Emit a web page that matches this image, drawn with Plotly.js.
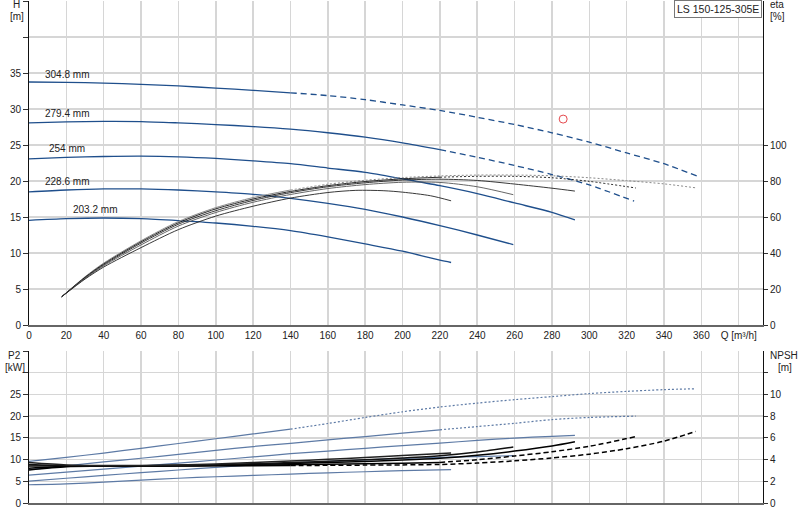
<!DOCTYPE html>
<html>
<head>
<meta charset="utf-8">
<script src="https://cdn.plot.ly/plotly-3.0.1.min.js"></script>
<style>html,body{margin:0;padding:0;background:#fff}#chart{width:800px;height:520px}</style>
</head>
<body>
<div id="chart"></div>
<script>
// ---------- DATA ----------
const diameterLabels = ['304.8 mm', '279.4 mm', '254 mm', '228.6 mm', '203.2 mm'];
const modelName = 'LS 150-125-305E';

// Head H [m] vs Q [m³/h]
const qH_3048 = [0,20,40,60,80,100,120,140,160,180,200,220,240,260,280,300,320,340,357.5];
const h_3048  = [33.75,33.7,33.6,33.42,33.2,32.9,32.6,32.25,31.86,31.3,30.56,29.8,28.85,27.84,26.7,25.4,23.9,22.4,20.7];
const qH_2794 = [0,20,40,60,80,100,120,140,160,180,200,220,240,260,280,300,324];
const h_2794  = [28.07,28.2,28.28,28.25,28.07,27.84,27.56,27.2,26.7,26.1,25.3,24.35,23.3,22.15,20.9,19.45,17.2];
const qH_254  = [0,20,40,60,80,100,120,140,160,180,200,220,240,260,280,292.3];
const h_254   = [23.08,23.27,23.4,23.45,23.36,23.13,22.8,22.4,21.8,21.2,20.3,19.35,18.25,16.95,15.65,14.6];
const qH_2286 = [0,20,40,60,80,100,120,140,160,180,200,220,240,259.3];
const h_2286  = [18.5,18.75,18.9,18.9,18.75,18.48,18.15,17.6,16.9,16.07,15.0,13.8,12.5,11.17];
const qH_2032 = [0,20,40,60,80,100,120,140,160,180,200,220,226];
const h_2032  = [14.54,14.77,14.86,14.77,14.5,14.17,13.7,13.1,12.23,11.26,10.25,9.0,8.68];

// Efficiency eta [%]
const qE_3048 = [17.5,30,40,60,80,100,120,140,160,180,200,220,240,260,280,300,320,340,357];
const eta_3048 = [15.7,26.8,34.4,46.8,57.5,65.2,70.8,75,78.2,80.4,81.9,82.8,83.3,83.3,82.9,81.8,80.2,78.4,76.2];
const qE_2794 = [17.5,30,40,60,80,100,120,140,160,180,200,220,240,260,280,300,325];
const eta_2794 = [15.7,26.5,33.9,46.2,56.8,64.5,70,74.2,77.4,79.7,81.2,82.1,82.6,82.6,81.8,79.8,76.1];
const qE_254 = [17.5,30,40,60,80,100,120,140,160,180,200,220,240,260,280,292.3];
const eta_254 = [15.7,26.2,33.4,45.5,56,63.5,69.2,73.5,76.8,79,80.5,81,80.3,78.3,76,74.4];
const qE_2286 = [17.5,30,40,60,80,100,120,140,160,180,200,220,240,259.3];
const eta_2286 = [15.7,25.9,32.9,44.5,55,62.5,68.2,72.5,75.8,78,79.3,79.2,76.8,72.4];
const qE_2032 = [17.5,30,40,60,80,100,120,140,160,175,190,200,215,226];
const eta_2032 = [15.7,25.5,32.2,43,53,60.5,66,70.5,73.6,74.8,74.6,73.8,71.8,69];

// Power P2 [kW]
const qP_3048 = [0,20,40,60,80,100,120,140,160,180,200,220,240,260,280,300,320,340,357];
const p2_3048 = [9.6,10.5,11.5,12.6,13.7,14.8,15.9,17.0,18.3,19.7,21.0,22.1,23.0,23.8,24.5,25.2,25.7,26.1,26.3];
const qP_2794 = [0,20,40,60,80,100,120,140,160,180,200,220,240,260,280,300,325];
const p2_2794 = [7.7,8.55,9.45,10.3,11.2,12.1,13.0,13.75,14.55,15.3,16.1,16.85,17.6,18.35,19.2,19.7,20.0];
const qP_254 = [0,20,40,60,80,100,120,140,160,180,200,220,240,260,280,292.3];
const p2_254 = [6.44,7.1,7.8,8.5,9.2,9.9,10.6,11.35,11.95,12.6,13.2,13.8,14.4,14.95,15.35,15.56];
const qP_2286 = [0,20,40,60,80,100,120,140,160,180,200,220,240,259.3];
const p2_2286 = [5.06,5.7,6.35,7.0,7.6,8.2,8.75,9.2,9.6,9.95,10.25,10.5,10.7,10.9];
const qP_2032 = [0,20,40,60,80,100,120,140,160,180,200,226];
const p2_2032 = [4.2,4.4,4.8,5.25,5.7,6.05,6.35,6.65,6.95,7.2,7.45,7.7];

// NPSH [m]
const qN_3048 = [0,20,40,60,80,100,120,140,160,180,200,220,240,260,280,300,320,340,357];
const npsh_3048 = [3.05,3.35,3.38,3.4,3.41,3.42,3.43,3.45,3.47,3.49,3.51,3.55,3.68,3.88,4.15,4.5,5.0,5.7,6.6];
const qN_2794 = [0,20,40,60,80,100,120,140,160,180,200,220,240,260,280,300,325];
const npsh_2794 = [3.2,3.38,3.4,3.41,3.42,3.45,3.48,3.52,3.56,3.61,3.66,3.74,3.98,4.33,4.72,5.22,6.12];
const qN_254 = [0,20,40,60,80,100,120,140,160,180,200,220,240,260,280,292.3];
const npsh_254 = [3.4,3.42,3.42,3.43,3.45,3.5,3.56,3.63,3.72,3.83,3.95,4.12,4.4,4.78,5.25,5.64];
const qN_2286 = [0,20,40,60,80,100,120,140,160,180,200,220,240,259.3];
const npsh_2286 = [3.55,3.45,3.43,3.44,3.47,3.53,3.62,3.72,3.84,3.98,4.14,4.35,4.7,5.16];
const qN_2032 = [0,20,40,60,80,100,120,140,160,180,200,226];
const npsh_2032 = [3.72,3.5,3.45,3.46,3.5,3.6,3.72,3.86,4.02,4.2,4.38,4.6];

// Duty point
const dutyQ = [286];
const dutyH = [28.6];

// Ticks
const qTicks = [0,20,40,60,80,100,120,140,160,180,200,220,240,260,280,300,320,340,360,380];
const qTickText = ['0','20','40','60','80','100','120','140','160','180','200','220','240','260','280','300','320','340','360','Q [m³/h]'];
const hTicks = [0,5,10,15,20,25,30,35,40,45];
const hTickText = ['0','5','10','15','20','25','30','35','',''];
const etaTicks = [0,20,40,60,80,100];
const p2Ticks = [0,5,10,15,20,25,30,35];
const p2TickText = ['0','5','10','15','20','25','',''];
const npshTicks = [0,2,4,6,8,10,12];
const npshTickText = ['0','2','4','6','8','10',''];

// ---------- DRAW ----------
const FONT = '"Liberation Sans", Arial, sans-serif';
const BLUE = '#1f4f8c';
const P2C = '#5d7aa5';
const traces = [];

function addCurve(q, v, xa, ya, color, width, dashFrom, dashStyle) {
  const solidQ = [], solidV = [], dQ = [], dV = [];
  for (let i = 0; i < q.length; i++) {
    if (dashFrom === null || q[i] <= dashFrom) { solidQ.push(q[i]); solidV.push(v[i]); }
    if (dashFrom !== null && q[i] >= dashFrom) { dQ.push(q[i]); dV.push(v[i]); }
  }
  traces.push({x: solidQ, y: solidV, xaxis: xa, yaxis: ya, mode: 'lines',
    line: {color: color, width: width, shape: 'spline', smoothing: 0.8}, hoverinfo: 'skip'});
  if (dQ.length > 1) {
    traces.push({x: dQ, y: dV, xaxis: xa, yaxis: ya, mode: 'lines',
      line: {color: color, width: width, shape: 'spline', smoothing: 0.8, dash: dashStyle}, hoverinfo: 'skip'});
  }
}

// H curves
addCurve(qH_3048, h_3048, 'x', 'y', BLUE, 1.3, 140, '6px,4px');
addCurve(qH_2794, h_2794, 'x', 'y', BLUE, 1.3, 220, '6px,4px');
addCurve(qH_254, h_254, 'x', 'y', BLUE, 1.3, null);
addCurve(qH_2286, h_2286, 'x', 'y', BLUE, 1.3, null);
addCurve(qH_2032, h_2032, 'x', 'y', BLUE, 1.3, null);

// eta curves
addCurve(qE_3048, eta_3048, 'x', 'y2', '#8a8a8a', 1, 140, '2px,2px');
addCurve(qE_2794, eta_2794, 'x', 'y2', '#111', 0.9, 220, '2px,2px');
addCurve(qE_254, eta_254, 'x', 'y2', '#222', 0.9, null);
addCurve(qE_2286, eta_2286, 'x', 'y2', '#555', 0.9, null);
addCurve(qE_2032, eta_2032, 'x', 'y2', '#222', 0.9, null);

// duty point
traces.push({x: dutyQ, y: dutyH, xaxis: 'x', yaxis: 'y', mode: 'markers',
  marker: {symbol: 'circle-open', size: 8, color: '#e5484d', line: {width: 1, color: '#e5484d'}}, hoverinfo: 'skip'});

// P2 curves
addCurve(qP_3048, p2_3048, 'x2', 'y3', P2C, 1.2, 140, '2px,2px');
addCurve(qP_2794, p2_2794, 'x2', 'y3', P2C, 1.2, 220, '2px,2px');
addCurve(qP_254, p2_254, 'x2', 'y3', P2C, 1.2, null);
addCurve(qP_2286, p2_2286, 'x2', 'y3', P2C, 1.2, null);
addCurve(qP_2032, p2_2032, 'x2', 'y3', P2C, 1.2, null);

// NPSH curves
addCurve(qN_3048, npsh_3048, 'x2', 'y4', '#000', 1.5, 140, '5px,3px');
addCurve(qN_2794, npsh_2794, 'x2', 'y4', '#000', 1.5, 220, '5px,3px');
addCurve(qN_254, npsh_254, 'x2', 'y4', '#000', 1.5, null);
addCurve(qN_2286, npsh_2286, 'x2', 'y4', '#111', 1.5, null);
addCurve(qN_2032, npsh_2032, 'x2', 'y4', '#222', 1.5, null);

// pixel helpers for annotation placement
const L = 29, R = 763, T = 1, B = 503;
const px = v => (v - L) / (R - L);
const py = v => (B - v) / (B - T);

const labelPos = [[7.5, 34.8], [7.5, 29.4], [9.5, 24.5], [7.5, 19.9], [22.3, 16.1]];
const annotations = diameterLabels.map((t, i) => ({
  text: t, x: labelPos[i][0], y: labelPos[i][1], xref: 'x', yref: 'y',
  xanchor: 'left', yanchor: 'middle', showarrow: false, font: {size: 10, color: '#222'}
}));
function note(text, x, y, xanchor) {
  annotations.push({text: text, x: px(x), y: py(y), xref: 'paper', yref: 'paper',
    xanchor: xanchor, yanchor: 'middle', showarrow: false, font: {size: 10, color: '#222'}});
}
note('H', 16.5, 5, 'center');
note('[m]', 17, 17, 'center');
note('eta', 768, 5, 'left');
note('[%]', 768, 17, 'left');
note('P2', 14, 355.5, 'center');
note('[kW]', 14.5, 367, 'center');
note('NPSH', 768, 355.5, 'left');
note('[m]', 784.5, 367, 'center');
annotations.push({text: modelName, x: px(762), y: py(0), xref: 'paper', yref: 'paper',
  xanchor: 'right', yanchor: 'top', showarrow: false, font: {size: 10.5, color: '#222'},
  bgcolor: '#fff', bordercolor: '#777', borderwidth: 1, borderpad: 2});

const GRID = '#d6d6d6';
const layout = {
  width: 800, height: 520,
  margin: {l: L, r: 800 - R, t: T, b: 520 - B},
  paper_bgcolor: '#fff', plot_bgcolor: '#fff',
  font: {family: FONT, size: 10, color: '#222'},
  showlegend: false,
  xaxis: {domain: [0, 1], anchor: 'y', range: [0, 393], tickmode: 'array', tickvals: qTicks, ticktext: qTickText,
    showgrid: true, gridcolor: GRID, gridwidth: 1.5, showline: true, linecolor: '#666', linewidth: 1.5,
    zeroline: false, ticks: '', tickfont: {size: 10}},
  yaxis: {domain: [py(325), 1], anchor: 'x', range: [0, 45], tickmode: 'array', tickvals: hTicks, ticktext: hTickText,
    showgrid: true, gridcolor: GRID, gridwidth: 1.5, showline: true, linecolor: '#111', linewidth: 1,
    zeroline: false, ticks: 'outside', ticklen: 5, tickcolor: '#333', tickfont: {size: 10}},
  yaxis2: {overlaying: 'y', side: 'right', anchor: 'x', range: [0, 180], tickmode: 'array', tickvals: etaTicks,
    showgrid: false, showline: true, linecolor: '#111', linewidth: 1, zeroline: false,
    ticks: 'outside', ticklen: 4, tickcolor: '#333', tickfont: {size: 10}},
  xaxis2: {domain: [0, 1], anchor: 'y3', range: [0, 393], tickmode: 'array', tickvals: qTicks, showticklabels: false,
    showgrid: true, gridcolor: GRID, gridwidth: 1.5, showline: true, linecolor: '#666', linewidth: 1.5,
    zeroline: false, ticks: ''},
  yaxis3: {domain: [0, py(351)], anchor: 'x2', range: [0, 35], tickmode: 'array', tickvals: p2Ticks, ticktext: p2TickText,
    showgrid: true, gridcolor: GRID, gridwidth: 1.5, showline: true, linecolor: '#111', linewidth: 1,
    zeroline: false, ticks: 'outside', ticklen: 5, tickcolor: '#333', tickfont: {size: 10}},
  yaxis4: {overlaying: 'y3', side: 'right', anchor: 'x2', range: [0, 14], tickmode: 'array', tickvals: npshTicks, ticktext: npshTickText,
    showgrid: false, showline: true, linecolor: '#111', linewidth: 1, zeroline: false,
    ticks: 'outside', ticklen: 4, tickcolor: '#333', tickfont: {size: 10}},
  annotations: annotations
};

Plotly.newPlot('chart', traces, layout, {staticPlot: true, displayModeBar: false});
</script>
</body>
</html>
